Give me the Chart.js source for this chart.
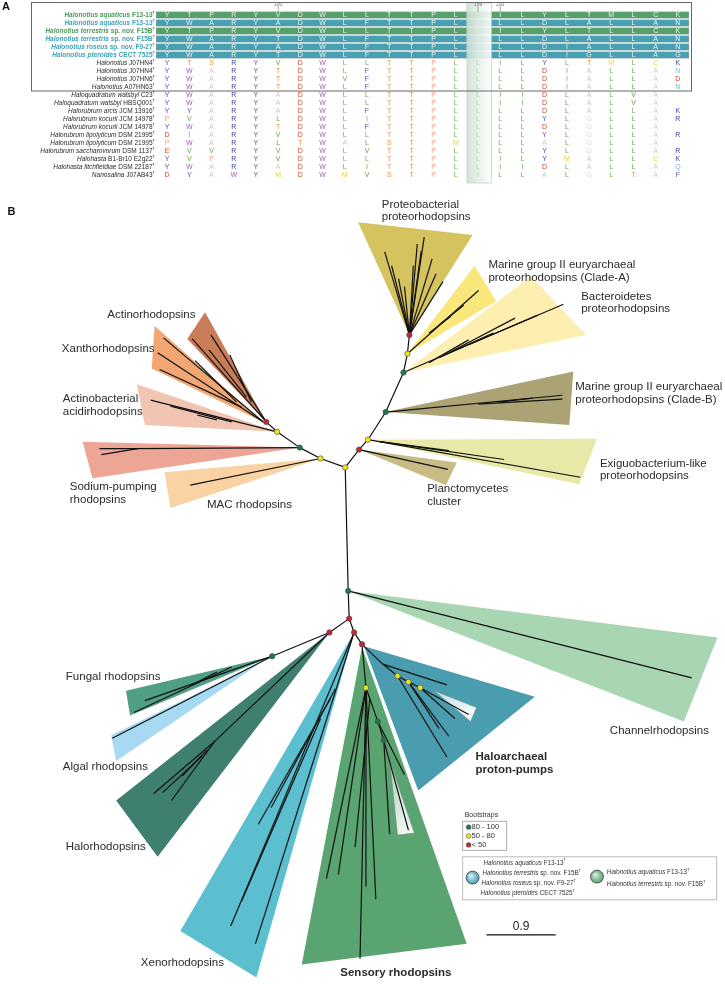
<!DOCTYPE html>
<html>
<head>
<meta charset="utf-8">
<script src="https://cdn.jsdelivr.net/npm/chart.js@4.4.0/dist/chart.umd.min.js"></script>
<style>
  html, body { margin: 0; padding: 0; background: #fff; }
  #wrap { position: relative; width: 725px; height: 984px; }
  #alignChart { position: absolute; left: 0; top: 0; }
  #treeChart { position: absolute; left: 0; top: 188px; }
</style>
</head>
<body>
<div id="wrap">
  <canvas id="alignChart" width="725" height="188"></canvas>
  <canvas id="treeChart" width="725" height="796"></canvas>
</div>
<script>
const FONT = '"Liberation Sans", Arial, sans-serif';

// ---------- Panel A data ----------
const taxa = [
  'Halonotius aquaticus', 'Halonotius aquaticus', 'Halonotius terrestris', 'Halonotius terrestris',
  'Halonotius roseus', 'Halonotius pteroides', 'Halonotius', 'Halonotius', 'Halonotius', 'Halonotius',
  'Haloquadratum walsbyi', 'Haloquadratum walsbyi', 'Halorubrum arcis', 'Halorubrum kocurii',
  'Halorubrum kocurii', 'Halorubrum lipolyticum', 'Halorubrum lipolyticum', 'Halorubrum saccharovorum',
  'Halohasta', 'Halohasta litchfieldiae', 'Nanosalina'
];
const strains = [
  ' F13-13', ' F13-13', ' sp. nov. F15B', ' sp. nov. F15B', ' sp. nov. F9-27', ' CECT 7525',
  ' J07HN4', ' J07HN4', ' J07HN6', ' A07HN63', ' C23', ' HBSQ001', ' JCM 13916', ' JCM 14978',
  ' JCM 14978', ' DSM 21995', ' DSM 21995', ' DSM 1137', ' B1-Br10 E2g22', ' DSM 22187', ' J07AB43'
];
const rowBand = ['green', 'teal', 'green', 'teal', 'teal', 'teal',
  null, null, null, null, null, null, null, null, null, null, null, null, null, null, null];
const sequences = [
  'YTPRYVDWLLTTPLLILYLTMLCK',
  'YWARYADWLFTTPLLLLDLALLAN',
  'YTPRYVDWLLTTPLLILYLTLLCK',
  'YWARYTDWLFTTPLLLLDLALLAN',
  'YWARYADWLFTTPLLLLDIALLAN',
  'YWARYTDWLFTTPLLLLDIGLLAG',
  'YTSRYVDWLLTTPLLILYLTMLCK',
  'YWARYTDWLFTTPLLLLDIALLAN',
  'YWARYTDWVFTTPLLLLDIALLAD',
  'YWARYTDWLFTTPLLLLDIALLAN',
  'YWARYADWLLTTPLLIIDLALVA-',
  'YWARYADWLLTTPLLIIDLALVA-',
  'YYARYADWLFTTPLLLLDLALLAK',
  'PVARYLDWLITTPLLLLYLGLLAR',
  'YWARYTDWLFTTPLLLLDLGLLA-',
  'DIARYVDWLLTTPLLLLYLGLLAR',
  'PWARYLTWALSTPMLLLALGLLA-',
  'EVVRYVDWLVTTPLLLLYLGLLAR',
  'YVPRYVDWLLTTPLLILYMALLCK',
  'YWARYADWLITTPLLIIDLALLAQ',
  'DYAWYMDWMVSTPLILLALGLTAF'
];
const tickColumns = [5, 14, 15];
const tickLabels = ['190', '199', '200'];
const shadedColumn = 14;

const bandColors = { green: '#56a06b', teal: '#48a1b3' };
const bandText = { green: '#4c9a5d', teal: '#3ea2b8' };
const aaColors = {
  Y: '#5b4ca6', W: '#a35cb8', A: '#cacaca', R: '#3b3f9e', V: '#5ea344', T: '#e8913a',
  D: '#d4462e', L: '#6aab55', F: '#5754a8', P: '#e9a08c', S: '#e99a40', I: '#6aab55',
  M: '#e3d443', C: '#e3d443', K: '#3a47a0', N: '#63c6d6', Q: '#7ab8d8', G: '#d8d8d8', E: '#d4462e'
};

function drawRich(ctx, parts, x, y, align) {
  const widths = parts.map(p => { ctx.font = p.font; return ctx.measureText(p.text).width; });
  const total = widths.reduce((a, b) => a + b, 0);
  let cx = align === 'right' ? x - total : (align === 'center' ? x - total / 2 : x);
  ctx.textAlign = 'left';
  ctx.textBaseline = 'middle';
  parts.forEach((p, i) => {
    ctx.font = p.font;
    ctx.fillStyle = p.color;
    ctx.fillText(p.text, cx, y + (p.dy || 0));
    cx += widths[i];
  });
}

const alignDecor = {
  id: 'alignDecor',
  afterDatasetsDraw(chart) {
    const { ctx, scales: { x, y } } = chart;
    const step = y.getPixelForValue(1) - y.getPixelForValue(0);
    const top = y.getPixelForValue(0) - step * 1.5;
    const bot = y.getPixelForValue(taxa.length - 1) + step;
    ctx.save();

    // shaded column
    const sx0 = x.getPixelForValue(shadedColumn - 0.5), sx1 = x.getPixelForValue(shadedColumn + 0.6);
    const g = ctx.createLinearGradient(sx0, 0, sx1, 0);
    g.addColorStop(0, 'rgba(205,224,210,0.88)');
    g.addColorStop(1, 'rgba(255,255,255,0.9)');
    ctx.fillStyle = g;
    ctx.fillRect(sx0, top, sx1 - sx0, bot - top);
    ctx.strokeStyle = '#c8d2cb';
    ctx.lineWidth = 0.8;
    ctx.strokeRect(sx0, top, sx1 - sx0, bot - top);

    // residues
    ctx.textAlign = 'center';
    ctx.textBaseline = 'middle';
    ctx.font = '7px ' + FONT;
    sequences.forEach((seq, r) => {
      const py = y.getPixelForValue(r) + 0.5;
      [...seq].forEach((aa, c) => {
        if (aa === '-') return;
        ctx.globalAlpha = c === shadedColumn ? 0.45 : 1;
        ctx.fillStyle = rowBand[r] ? '#e4f2ea' : (aaColors[aa] || '#888');
        ctx.fillText(aa, x.getPixelForValue(c), py);
      });
    });
    ctx.globalAlpha = 1;

    // position ticks
    ctx.strokeStyle = '#888';
    ctx.lineWidth = 0.7;
    ctx.fillStyle = '#777';
    ctx.font = '5px ' + FONT;
    tickColumns.forEach((c, i) => {
      const px = x.getPixelForValue(c);
      ctx.beginPath();
      ctx.moveTo(px, top + 3);
      ctx.lineTo(px, y.getPixelForValue(0) - 3);
      ctx.stroke();
      ctx.fillText(tickLabels[i], px, top + 2);
    });

    // frame around Halonotius rows
    ctx.strokeStyle = '#666';
    ctx.lineWidth = 1;
    const fr = x.getPixelForValue(23.5) + 2.5;
    const fb = y.getPixelForValue(9) + step / 2;
    ctx.strokeRect(31.5, top - 0.5, fr - 31.5, fb - top + 0.5);

    // taxa labels
    taxa.forEach((t, r) => {
      const band = rowBand[r];
      const col = band ? bandText[band] : '#2a2a2a';
      const w = band ? 'bold ' : '';
      drawRich(ctx, [
        { text: t, font: 'italic ' + w + '6.5px ' + FONT, color: col },
        { text: strains[r], font: w + '6.5px ' + FONT, color: col },
        { text: 'T', font: w + '4px ' + FONT, color: col, dy: -2.5 }
      ], 155, y.getPixelForValue(r) + 0.5, 'right');
    });

    // panel letter
    ctx.fillStyle = '#111';
    ctx.font = 'bold 11px ' + FONT;
    ctx.textAlign = 'left';
    ctx.fillText('A', 2, 7);
    ctx.restore();
  }
};

new Chart(document.getElementById('alignChart'), {
  type: 'bar',
  data: {
    labels: taxa.map((t, i) => t + strains[i] + ' #' + i),
    datasets: [{
      data: rowBand.map(b => b ? [-0.5, 23.5] : null),
      backgroundColor: rowBand.map(b => b ? bandColors[b] : 'rgba(0,0,0,0)'),
      borderColor: '#2e5d58',
      borderWidth: 0.6,
      borderSkipped: false,
      barPercentage: 0.9,
      categoryPercentage: 1
    }]
  },
  options: {
    indexAxis: 'y',
    responsive: false,
    animation: false,
    devicePixelRatio: 1,
    layout: { padding: { left: 156, right: 36, top: 11, bottom: 9 } },
    plugins: { legend: { display: false }, tooltip: { enabled: false } },
    scales: {
      x: { type: 'linear', min: -0.5, max: 23.5, display: false },
      y: { display: false }
    }
  },
  plugins: [alignDecor]
});

// ---------- Panel B data (tree layout units) ----------
const cladeNames = [
  'Proteobacterial proteorhodopsins', 'Marine group II Clade-A', 'Bacteroidetes proteorhodopsins',
  'Marine group II Clade-B', 'Exiguobacterium-like proteorhodopsins', 'Planctomycetes cluster',
  'Actinorhodopsins', 'Xanthorhodopsins', 'Actinobacterial acidirhodopsins', 'Sodium-pumping rhodopsins',
  'MAC rhodopsins', 'Channelrhodopsins', 'Fungal rhodopsins', 'Algal rhodopsins', 'Halorhodopsins',
  'Xenorhodopsins', 'Sensory rhodopsins', 'Haloarchaeal proton-pumps'
];
const cladeColors = [
  '#d5c35f', '#f9e77a', '#fcefb0', '#aba374', '#e8e8a8', '#c9bb85',
  '#c97c58', '#f1a674', '#f2c4b2', '#eda595', '#f9d3a3',
  '#a8d5b2', '#4f9e85', '#a7d9f2', '#3f7f6f', '#5bbfd0', '#5aa472', '#4a9daf'
];
const cladeApex = [
  [410, 332], [408, 351], [404, 370], [386, 410], [368, 438], [359, 448],
  [265, 420], [262, 420], [276, 430], [299, 446], [320, 457],
  [348, 591], [271, 657], [262, 662], [329, 633], [354, 633], [362, 648], [364, 647]
];
const cladeTipA = [
  [358, 218], [476, 262], [533, 273], [576, 369], [600, 437], [458, 461],
  [203, 309], [152, 323], [134, 382], [79, 440], [162, 471],
  [722, 638], [123, 692], [108, 737], [113, 803], [178, 935], [301, 969], [537, 698]
];
const cladeTipB = [
  [474, 231], [498, 298], [589, 332], [572, 423], [582, 483], [447, 484],
  [185, 336], [149, 366], [142, 423], [89, 477], [168, 507],
  [688, 723], [127, 717], [113, 763], [155, 860], [255, 982], [468, 948], [419, 793]
];
// highlighted Halonotius sub-clades
const highlightApex = [[435, 692], [390, 762]];
const highlightTipA = [[478, 709], [415, 836]];
const highlightTipB = [[472, 723], [398, 838]];
const highlightColors = [['#b9dde6', '#f6fbfc'], ['#a6cdb5', '#f1f7f3']];

const cladeLabels = [
  ['Proteobacterial', 'proteorhodopsins'], ['Marine group II euryarchaeal', 'proteorhodopsins (Clade-A)'],
  ['Bacteroidetes', 'proteorhodopsins'], ['Marine group II euryarchaeal', 'proteorhodopsins (Clade-B)'],
  ['Exiguobacterium-like', 'proteorhodopsins'], ['Planctomycetes', 'cluster'],
  ['Actinorhodopsins'], ['Xanthorhodopsins'], ['Actinobacterial', 'acidirhodopsins'],
  ['Sodium-pumping', 'rhodopsins'], ['MAC rhodopsins'], ['Channelrhodopsins'], ['Fungal rhodopsins'],
  ['Algal rhodopsins'], ['Halorhodopsins'], ['Xenorhodopsins'], ['Sensory rhodopsins'],
  ['Haloarchaeal', 'proton-pumps']
];
const cladeLabelAt = [
  [382, 200], [490, 261], [584, 293], [578, 385], [603, 462], [428, 488],
  [104, 312], [58, 346], [59, 397], [66, 486], [205, 504], [613, 733], [62, 678],
  [59, 769], [62, 850], [138, 967], [340, 977], [477, 759]
];
const cladeLabelBold = cladeNames.map(n => n === 'Sensory rhodopsins' || n === 'Haloarchaeal proton-pumps');

const edges = [
  // backbone
  [345, 466, 320, 457], [320, 457, 299, 446], [299, 446, 276, 430], [276, 430, 265, 420],
  [345, 466, 359, 448], [359, 448, 368, 438], [368, 438, 386, 410], [386, 410, 404, 370],
  [404, 370, 408, 351], [408, 351, 410, 332], [345, 466, 348, 591], [348, 591, 349, 619],
  [349, 619, 329, 633], [329, 633, 271, 657], [349, 619, 354, 633], [354, 633, 362, 645],
  // actinorhodopsins, xanthorhodopsins, acidirhodopsins
  [265, 420, 190, 336], [265, 420, 209, 332], [245, 395, 207, 347], [250, 400, 228, 352],
  [262, 420, 161, 335], [262, 420, 155, 350], [240, 405, 157, 367], [235, 400, 193, 358],
  [276, 430, 148, 398], [230, 420, 168, 404], [215, 418, 195, 413],
  // sodium pumps, MAC
  [299, 446, 135, 447], [135, 447, 96, 447], [135, 447, 98, 453], [320, 457, 188, 484],
  // proteobacterial
  [410, 332, 385, 248], [410, 332, 425, 233], [410, 332, 422, 247], [410, 332, 414, 262],
  [410, 332, 399, 275], [410, 332, 444, 278], [410, 332, 433, 255], [410, 332, 405, 283],
  [410, 332, 392, 262], [410, 332, 437, 270], [410, 332, 418, 240],
  // clade A, bacteroidetes, clade B
  [408, 351, 480, 287], [430, 330, 452, 313], [440, 322, 465, 302],
  [404, 370, 566, 301], [470, 342, 540, 312], [450, 350, 517, 315], [440, 355, 495, 330], [430, 360, 470, 337],
  [386, 410, 565, 393], [480, 402, 565, 397], [500, 400, 535, 396],
  // exiguobacterium, planctomycetes, channelrhodopsins
  [368, 438, 583, 476], [380, 440, 506, 458], [380, 440, 450, 449], [359, 448, 449, 468],
  [348, 591, 696, 679],
  // fungal, algal, halorhodopsins
  [271, 657, 142, 702], [230, 668, 131, 714], [215, 673, 190, 686], [271, 657, 109, 740],
  [329, 633, 213, 743], [213, 743, 151, 796], [213, 743, 169, 803], [205, 752, 180, 778], [200, 758, 160, 795],
  // xenorhodopsins
  [354, 633, 229, 930], [354, 633, 254, 948], [330, 700, 257, 827], [320, 720, 240, 905], [335, 690, 270, 810],
  // sensory rhodopsins
  [362, 645, 366, 689], [366, 689, 360, 963], [366, 689, 326, 882], [366, 689, 338, 878], [366, 689, 376, 903],
  [366, 689, 378, 723], [378, 723, 384, 742], [384, 742, 390, 837], [384, 742, 409, 833], [378, 723, 405, 777],
  [366, 689, 366, 890], [370, 700, 355, 850],
  // haloarchaeal proton pumps
  [362, 645, 383, 665], [383, 665, 448, 686], [383, 665, 398, 677], [398, 677, 409, 683], [409, 683, 421, 689],
  [398, 677, 448, 759], [409, 683, 450, 738], [421, 689, 470, 716], [421, 689, 456, 720], [409, 683, 440, 730]
];

const nodes = [
  { x: 345, y: 466, s: 'y' }, { x: 320, y: 457, s: 'y' }, { x: 299, y: 446, s: 'g' }, { x: 276, y: 430, s: 'y' },
  { x: 265, y: 420, s: 'r' }, { x: 359, y: 448, s: 'r' }, { x: 368, y: 438, s: 'y' }, { x: 386, y: 410, s: 'g' },
  { x: 404, y: 370, s: 'g' }, { x: 408, y: 351, s: 'y' }, { x: 410, y: 332, s: 'r' }, { x: 348, y: 591, s: 'g' },
  { x: 349, y: 619, s: 'r' }, { x: 329, y: 633, s: 'r' }, { x: 271, y: 657, s: 'g' }, { x: 354, y: 633, s: 'r' },
  { x: 362, y: 645, s: 'r' }, { x: 398, y: 677, s: 'y' }, { x: 409, y: 683, s: 'y' }, { x: 421, y: 689, s: 'y' },
  { x: 366, y: 689, s: 'y' }, { x: 378, y: 723, s: 'g' }, { x: 384, y: 742, s: 'g' }
];
const supportColors = { g: '#1d7a4c', y: '#f3e21c', r: '#c7252f' };
const supportLabels = [['g', '80 - 100'], ['y', '50 - 80'], ['r', '< 50']];

const scaleBarValue = 0.9;
const unitsPerSubstitution = 78;
const scaleBarAt = [488, 939];

const legendLeft = [
  ['Halonotius aquaticus', ' F13-13'], ['Halonotius terrestris', ' sp. nov. F15B'],
  ['Halonotius roseus', ' sp. nov. F9-27'], ['Halonotius pteroides', ' CECT 7525']
];
const legendRight = [['Halonotius aquaticus', ' F13-13'], ['Halonotius terrestris', ' sp. nov. F15B']];

const wedges = {
  id: 'wedges',
  beforeDatasetsDraw(chart) {
    const { ctx, scales: { x, y } } = chart;
    const P = p => [x.getPixelForValue(p[0]), y.getPixelForValue(p[1])];
    ctx.save();
    cladeApex.forEach((apex, i) => {
      const [a, b, c] = [P(apex), P(cladeTipA[i]), P(cladeTipB[i])];
      ctx.beginPath();
      ctx.moveTo(a[0], a[1]); ctx.lineTo(b[0], b[1]); ctx.lineTo(c[0], c[1]); ctx.closePath();
      ctx.fillStyle = cladeColors[i];
      ctx.fill();
    });
    highlightApex.forEach((apex, i) => {
      const [a, b, c] = [P(apex), P(highlightTipA[i]), P(highlightTipB[i])];
      const g = ctx.createLinearGradient(a[0], a[1], (b[0] + c[0]) / 2, (b[1] + c[1]) / 2);
      g.addColorStop(0, highlightColors[i][0]);
      g.addColorStop(1, highlightColors[i][1]);
      ctx.beginPath();
      ctx.moveTo(a[0], a[1]); ctx.lineTo(b[0], b[1]); ctx.lineTo(c[0], c[1]); ctx.closePath();
      ctx.fillStyle = g;
      ctx.fill();
      ctx.strokeStyle = '#7d8a8a';
      ctx.lineWidth = 0.6;
      ctx.stroke();
    });
    ctx.restore();
  }
};

const treeText = {
  id: 'treeText',
  afterDatasetsDraw(chart) {
    const { ctx, scales: { x, y } } = chart;
    ctx.save();
    ctx.textBaseline = 'middle';
    ctx.textAlign = 'left';

    cladeLabels.forEach((lines, i) => {
      ctx.font = (cladeLabelBold[i] ? 'bold ' : '') + '11.5px ' + FONT;
      ctx.fillStyle = '#2b2b2b';
      lines.forEach((ln, k) => {
        ctx.fillText(ln, x.getPixelForValue(cladeLabelAt[i][0]), y.getPixelForValue(cladeLabelAt[i][1] + k * 13));
      });
    });

    ctx.fillStyle = '#111';
    ctx.font = 'bold 11px ' + FONT;
    ctx.fillText('B', x.getPixelForValue(3), y.getPixelForValue(208));

    // bootstrap legend
    ctx.fillStyle = '#333';
    ctx.font = '7px ' + FONT;
    ctx.fillText('Bootstraps', x.getPixelForValue(466), y.getPixelForValue(818));
    ctx.strokeStyle = '#999';
    ctx.lineWidth = 0.8;
    ctx.strokeRect(x.getPixelForValue(464), y.getPixelForValue(824), 44, 29);
    supportLabels.forEach(([s, t], k) => {
      const py = y.getPixelForValue(830 + k * 9);
      ctx.beginPath();
      ctx.arc(x.getPixelForValue(470), py, 2.4, 0, Math.PI * 2);
      ctx.fillStyle = supportColors[s];
      ctx.fill();
      ctx.strokeStyle = '#444';
      ctx.lineWidth = 0.5;
      ctx.stroke();
      ctx.fillStyle = '#333';
      ctx.font = '7.5px ' + FONT;
      ctx.fillText(t, x.getPixelForValue(473), py);
    });

    // species legend
    ctx.strokeStyle = '#aaa';
    ctx.lineWidth = 0.8;
    ctx.strokeRect(x.getPixelForValue(464), y.getPixelForValue(860), 254, 43);
    const ball = (cx, cy, c0, c1) => {
      const px = x.getPixelForValue(cx), py = y.getPixelForValue(cy);
      const g = ctx.createRadialGradient(px - 2, py - 2, 0.5, px, py, 7);
      g.addColorStop(0, c0);
      g.addColorStop(1, c1);
      ctx.beginPath();
      ctx.arc(px, py, 6.5, 0, Math.PI * 2);
      ctx.fillStyle = g;
      ctx.fill();
      ctx.strokeStyle = '#333';
      ctx.lineWidth = 0.7;
      ctx.stroke();
    };
    ball(474, 881, '#d6f0f6', '#3f98b0');
    ball(600, 880, '#d8efdf', '#4f9d6c');
    const sp = (pair, lx, ly) => drawRich(ctx, [
      { text: pair[0], font: 'italic 6.3px ' + FONT, color: '#333' },
      { text: pair[1], font: '6.3px ' + FONT, color: '#333' },
      { text: 'T', font: '4px ' + FONT, color: '#333', dy: -2.5 }
    ], x.getPixelForValue(lx), y.getPixelForValue(ly), 'left');
    legendLeft.forEach((p, k) => sp(p, [485, 484, 483, 482][k], 866 + k * 10.3));
    legendRight.forEach((p, k) => sp(p, 610, 876 + k * 12));

    // scale bar
    const bx0 = x.getPixelForValue(scaleBarAt[0]);
    const bx1 = x.getPixelForValue(scaleBarAt[0] + scaleBarValue * unitsPerSubstitution);
    const by = y.getPixelForValue(scaleBarAt[1]);
    ctx.strokeStyle = '#111';
    ctx.lineWidth = 1.2;
    ctx.beginPath();
    ctx.moveTo(bx0, by);
    ctx.lineTo(bx1, by);
    ctx.stroke();
    ctx.fillStyle = '#222';
    ctx.font = '12px ' + FONT;
    ctx.textAlign = 'center';
    ctx.fillText(String(scaleBarValue), (bx0 + bx1) / 2, by - 8);
    ctx.restore();
  }
};

const branchDatasets = edges.map(e => ({
  type: 'line',
  data: [{ x: e[0], y: e[1] }, { x: e[2], y: e[3] }],
  borderColor: '#111',
  borderWidth: 1.2,
  pointRadius: 0,
  fill: false,
  order: 2
}));

new Chart(document.getElementById('treeChart'), {
  type: 'scatter',
  data: {
    datasets: [...branchDatasets, {
      type: 'scatter',
      data: nodes,
      pointRadius: 2.7,
      pointBackgroundColor: nodes.map(n => supportColors[n.s]),
      pointBorderColor: '#444',
      pointBorderWidth: 0.6,
      order: 0
    }]
  },
  options: {
    responsive: false,
    animation: false,
    devicePixelRatio: 1,
    layout: { padding: 0 },
    plugins: { legend: { display: false }, tooltip: { enabled: false } },
    scales: {
      x: { type: 'linear', min: 0, max: 725, display: false },
      y: { type: 'linear', min: 188, max: 984, reverse: true, display: false }
    }
  },
  plugins: [wedges, treeText]
});
</script>
</body>
</html>
